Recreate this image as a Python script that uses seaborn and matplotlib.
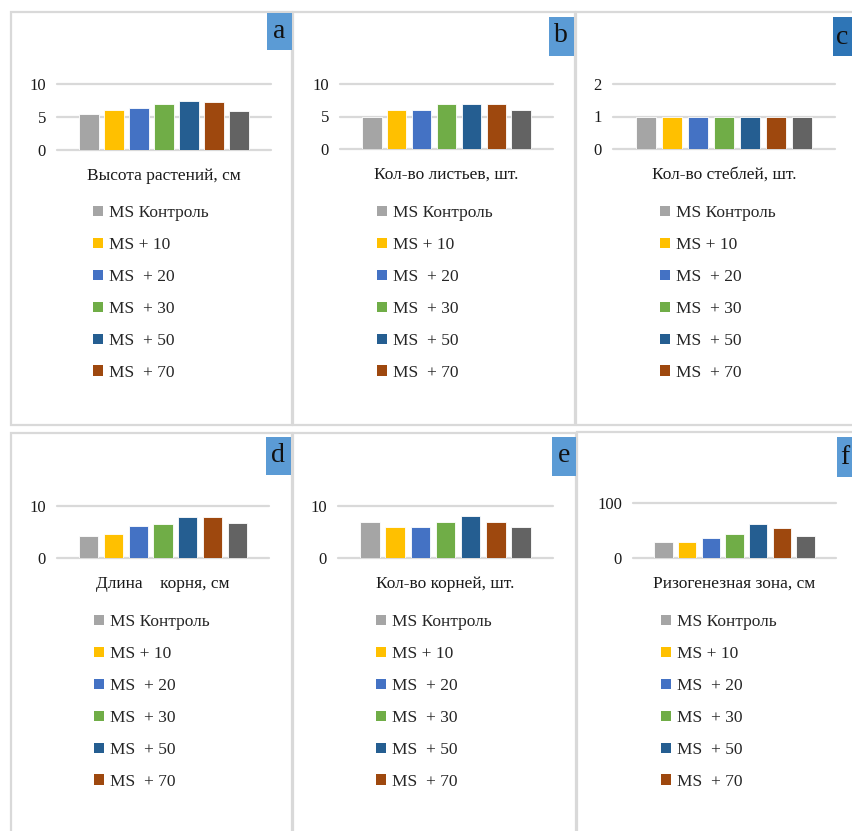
import matplotlib
matplotlib.use("Agg")
import matplotlib.pyplot as plt
from matplotlib.patches import Rectangle, Patch
import seaborn as sns
import pandas as pd

sns.set_theme(style="white")
plt.rcParams["font.family"] = ["Liberation Serif", "DejaVu Serif"]

# Treatments (bar order) and their colours
groups = ["MS Контроль", "MS + 10", "MS  + 20", "MS  + 30", "MS  + 50", "MS  + 70", "Ряд 7"]
legend_labels = groups[:6]
colors = ["#A5A5A5", "#FFC000", "#4472C4", "#70AD47", "#255E91", "#9E480E", "#636363"]

# Measured traits
plant_height = [5.4, 6.0, 6.4, 6.9, 7.5, 7.2, 5.9]
leaf_count = [5, 6, 6, 7, 7, 7, 6]
stem_count = [1, 1, 1, 1, 1, 1, 1]
root_length = [4.3, 4.7, 6.1, 6.5, 7.8, 7.8, 6.7]
root_count = [7, 6, 6, 7, 8, 7, 6]
rhizogenic_zone = [28.5, 28.5, 36, 44, 62, 54.5, 39.5]

titles = ["Высота растений, см", "Кол-во листьев, шт.", "Кол-во стеблей, шт.",
          "Длина    корня, см", "Кол-во корней, шт.", "Ризогенезная зона, см"]
letters = ["a", "b", "c", "d", "e", "f"]
y_ticks = [[0, 5, 10], [0, 5, 10], [0, 1, 2], [0, 10], [0, 10], [0, 100]]
series = [plant_height, leaf_count, stem_count, root_length, root_count, rhizogenic_zone]

W, H = 852, 831
fig = plt.figure(figsize=(W / 100, H / 100), dpi=100)
fig.patch.set_facecolor("white")


def frac_box(x0, y0, x1, y1):
    return [x0 / W, 1 - y1 / H, (x1 - x0) / W, (y1 - y0) / H]


# layout in pixels: plot area, legend anchor, letter box + letter centre, panel border
layout = [
    dict(plot=(57, 84, 271, 150), leg=(93, 205), tag=(267, 13, 292, 50), txt=(279, 31),
         tagc="#5B9BD5", border=(11, 12, 292, 425)),
    dict(plot=(340, 84, 553, 149), leg=(377, 205), tag=(549, 17, 574, 56), txt=(561, 36),
         tagc="#5B9BD5", border=(293, 12, 575, 425)),
    dict(plot=(613, 84, 835, 149), leg=(660, 205), tag=(833, 17, 860, 56), txt=(842, 37),
         tagc="#2E75B6", border=(576, 12, 870, 425)),
    dict(plot=(57, 506, 269, 558), leg=(94, 614), tag=(266, 437, 291, 475), txt=(278, 455),
         tagc="#5B9BD5", border=(11, 433, 292, 850)),
    dict(plot=(338, 506, 553, 558), leg=(376, 614), tag=(552, 437, 576, 476), txt=(564, 456),
         tagc="#5B9BD5", border=(293, 433, 576, 850)),
    dict(plot=(633, 503, 836, 558), leg=(661, 614), tag=(837, 437, 862, 477), txt=(845, 457),
         tagc="#5B9BD5", border=(577, 432, 870, 850)),
]

grid_color = "#D9D9D9"

for vals, title, letter, ticks, lay in zip(series, titles, letters, y_ticks, layout):
    # panel frame
    bx0, by0, bx1, by1 = lay["border"]
    fig.patches.append(Rectangle((bx0 / W, 1 - by1 / H), (bx1 - bx0) / W, (by1 - by0) / H,
                                 transform=fig.transFigure, fill=False,
                                 edgecolor=grid_color, linewidth=1.6, zorder=0))
    # letter tag
    tx0, ty0, tx1, ty1 = lay["tag"]
    fig.patches.append(Rectangle((tx0 / W, 1 - ty1 / H), (tx1 - tx0) / W, (ty1 - ty0) / H,
                                 transform=fig.transFigure, facecolor=lay["tagc"],
                                 edgecolor="none", zorder=1))
    cx, cy = lay["txt"]
    fig.text(cx / W, 1 - cy / H, letter, fontsize=20,
             ha="center", va="center", color="#111111")

    ax = fig.add_axes(frac_box(*lay["plot"]))
    df = pd.DataFrame({"group": groups, "value": vals})
    sns.barplot(data=df, x="group", y="value", hue="group", order=groups,
                hue_order=groups, palette=colors, saturation=1, width=0.78,
                legend=False, ax=ax, edgecolor="white", linewidth=0.6)
    ax.set_xlim(-1.28, len(groups) - 1 + 1.28)
    ax.set_ylim(0, ticks[-1])
    ax.set_yticks(ticks)
    ax.set_xticks([])
    ax.set_ylabel("")
    ax.set_xlabel(title, fontsize=12.5, labelpad=13, color="#1a1a1a")
    ax.tick_params(axis="y", length=0, pad=8, labelsize=12, labelcolor="#1a1a1a")
    for s in ax.spines.values():
        s.set_visible(False)
    ax.yaxis.grid(True, color=grid_color, linewidth=1.6)
    ax.set_axisbelow(True)
    for gl in ax.get_ygridlines():
        gl.set_clip_on(False)

    handles = [Patch(facecolor=c, edgecolor="none") for c in colors[:6]]
    lx, ly = lay["leg"]
    fig.legend(handles, legend_labels, loc="upper left",
               bbox_to_anchor=(lx / W, 1 - ly / H), frameon=False,
               fontsize=12.5, handlelength=0.55, handleheight=0.55,
               handletextpad=0.4, labelspacing=0.92, borderpad=0, borderaxespad=0)

fig.savefig("out.png", dpi=100, facecolor="white")
